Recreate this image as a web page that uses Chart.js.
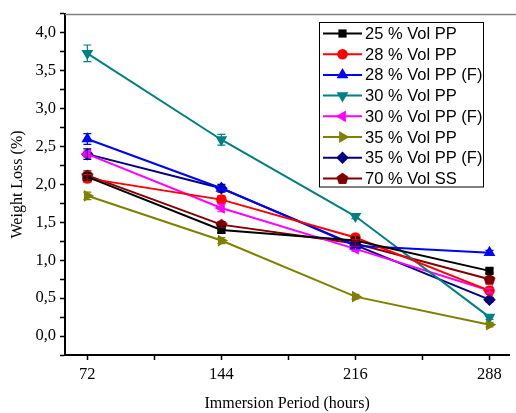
<!DOCTYPE html>
<html>
<head>
<meta charset="utf-8">
<script src="https://cdn.jsdelivr.net/npm/chart.js@4.4.1/dist/chart.umd.min.js"></script>
<style>
  html, body { margin: 0; padding: 0; background: #fff; }
  #wrap { position: relative; width: 516px; height: 413px; }
</style>
</head>
<body>
<div id="wrap"><canvas id="c" width="516" height="413"></canvas></div>
<script>
// ---- data ----
const hours = [72, 144, 216, 288];
const seriesNames = ['25 % Vol PP', '28 % Vol PP', '28 % Vol PP (F)', '30 % Vol PP', '30 % Vol PP (F)', '35 % Vol PP', '35 % Vol PP (F)', '70 % Vol SS'];
const vol25PP   = [2.10, 1.40, 1.26, 0.86];
const vol28PP   = [2.08, 1.80, 1.30, 0.60];
const vol28PPF  = [2.60, 1.95, 1.19, 1.10];
const vol30PP   = [3.73, 2.59, 1.58, 0.25];
const vol30PPF  = [2.40, 1.69, 1.15, 0.60];
const vol35PP   = [1.85, 1.26, 0.52, 0.15];
const vol35PPF  = [2.40, 1.95, 1.20, 0.48];
const vol70SS   = [2.12, 1.47, 1.22, 0.75];
const err25PP   = [0.05, 0.04, 0.03, 0.03];
const err28PP   = [0.05, 0.05, 0.03, 0.03];
const err28PPF  = [0.07, 0.03, 0.03, 0.03];
const err30PP   = [0.11, 0.07, 0.03, 0.03];
const err30PPF  = [0.04, 0.05, 0.03, 0.03];
const err35PP   = [0.05, 0.04, 0.03, 0.03];
const err35PPF  = [0.07, 0.05, 0.03, 0.03];
const err70SS   = [0.06, 0.04, 0.03, 0.03];
const xMajorTicks = [72, 144, 216, 288];
const xMinorTicks = [108, 180, 252];

const values = [vol25PP, vol28PP, vol28PPF, vol30PP, vol30PPF, vol35PP, vol35PPF, vol70SS];
const errors = [err25PP, err28PP, err28PPF, err30PP, err30PPF, err35PP, err35PPF, err70SS];
const colors = ['#000000', '#ff0000', '#0000ff', '#008080', '#ff00ff', '#808000', '#000080', '#800000'];

// pentagon marker
function pentagon(color, r) {
  const s = Math.ceil(r * 2 + 2);
  const cv = document.createElement('canvas');
  cv.width = s; cv.height = s;
  const g = cv.getContext('2d');
  g.fillStyle = color;
  g.beginPath();
  for (let i = 0; i < 5; i++) {
    const a = -Math.PI / 2 + i * 2 * Math.PI / 5;
    const px = s / 2 + r * Math.cos(a), py = s / 2 + r * Math.sin(a) + 0.5;
    if (i === 0) g.moveTo(px, py); else g.lineTo(px, py);
  }
  g.closePath(); g.fill();
  return cv;
}

const styles = [
  { ps: 'rect', rot: 0, r: 5.8 },
  { ps: 'circle', rot: 0, r: 5.3 },
  { ps: 'triangle', rot: 0, r: 6.8 },
  { ps: 'triangle', rot: 180, r: 6.8 },
  { ps: 'triangle', rot: 270, r: 6.8 },
  { ps: 'triangle', rot: 90, r: 6.8 },
  { ps: 'rectRot', rot: 0, r: 6.3 },
  { ps: pentagon('#800000', 6.3), rot: 0, r: 6.3 }
];

const datasets = seriesNames.map((name, i) => ({
  label: name,
  data: hours.map((h, j) => ({ x: h, y: values[i][j] })),
  errs: errors[i],
  borderColor: colors[i],
  backgroundColor: colors[i],
  borderWidth: 2,
  pointStyle: styles[i].ps,
  pointRotation: styles[i].rot,
  pointRadius: styles[i].r,
  pointBorderWidth: 0,
  pointBackgroundColor: colors[i],
  pointBorderColor: colors[i],
  tension: 0,
  fill: false
}));

const errorBars = {
  id: 'errorBars',
  afterDatasetsDraw(chart) {
    const ctx = chart.ctx, ys = chart.scales.y;
    chart.data.datasets.forEach((ds, i) => {
      const meta = chart.getDatasetMeta(i);
      ctx.save();
      ctx.strokeStyle = ds.borderColor;
      ctx.lineWidth = 1.2;
      meta.data.forEach((pt, j) => {
        const v = ds.data[j].y, e = ds.errs[j];
        const yt = ys.getPixelForValue(v + e), yb = ys.getPixelForValue(v - e);
        ctx.beginPath();
        ctx.moveTo(pt.x, yt); ctx.lineTo(pt.x, yb);
        ctx.moveTo(pt.x - 4, yt); ctx.lineTo(pt.x + 4, yt);
        ctx.moveTo(pt.x - 4, yb); ctx.lineTo(pt.x + 4, yb);
        ctx.stroke();
      });
      ctx.restore();
    });
  }
};

const frameAndLegend = {
  id: 'frameAndLegend',
  afterDraw(chart) {
    const ctx = chart.ctx, a = chart.chartArea;
    ctx.save();
    ctx.strokeStyle = '#808080';
    ctx.lineWidth = 1.5;
    ctx.beginPath();
    ctx.moveTo(a.left, a.top + 0.5); ctx.lineTo(chart.width, a.top + 0.5);
    ctx.stroke();
    // legend
    const bx = 319.5, by = 22.5, bw = 164, bh = 164.5;
    ctx.fillStyle = '#fff';
    ctx.fillRect(bx, by, bw, bh);
    ctx.strokeStyle = '#000';
    ctx.lineWidth = 1;
    ctx.strokeRect(bx, by, bw, bh);
    ctx.font = '16.5px "Liberation Sans", Arial, sans-serif';
    ctx.textBaseline = 'middle';
    chart.data.datasets.forEach((ds, i) => {
      const y = 33.5 + i * 20.7;
      ctx.strokeStyle = ds.borderColor;
      ctx.lineWidth = 2;
      ctx.beginPath(); ctx.moveTo(323, y); ctx.lineTo(362, y); ctx.stroke();
      ctx.fillStyle = ds.borderColor;
      Chart.helpers.drawPoint(ctx, { pointStyle: ds.pointStyle, rotation: ds.pointRotation, radius: ds.pointRadius, borderWidth: 0 }, 342.5, y);
      ctx.fillStyle = '#000';
      ctx.fillText(ds.label, 365, y + 1);
    });
    ctx.restore();
  }
};

const serif = '"Liberation Serif", "Times New Roman", serif';

new Chart(document.getElementById('c'), {
  type: 'line',
  data: { datasets },
  plugins: [errorBars, frameAndLegend],
  options: {
    responsive: false,
    animation: false,
    events: [],
    layout: { padding: { top: 12, right: 0, left: 0, bottom: 0 } },
    plugins: { legend: { display: false }, tooltip: { enabled: false } },
    scales: {
      x: {
        type: 'linear',
        min: 60, max: 298.6,
        afterBuildTicks(s) {
          s.ticks = xMajorTicks.concat(xMinorTicks).sort((p, q) => p - q).map(v => ({ value: v }));
        },
        afterFit(s) { s.height = 58; },
        ticks: {
          color: '#000',
          font: { family: serif, size: 16.5 },
          padding: 5,
          maxRotation: 0,
          autoSkip: false,
          callback: v => xMajorTicks.includes(v) ? String(v) : ''
        },
        grid: { drawOnChartArea: false, tickLength: 5, color: '#000', tickWidth: 1.5 },
        border: { color: '#000', width: 2 },
        title: { display: true, text: 'Immersion Period (hours)', color: '#000', font: { family: serif, size: 16 }, padding: { top: 0, bottom: 0 } }
      },
      y: {
        min: -0.25, max: 4.25,
        afterBuildTicks(s) {
          const t = [];
          for (let k = -1; k <= 17; k++) t.push({ value: k * 0.25 });
          s.ticks = t;
        },
        afterFit(s) { s.width = 65; },
        ticks: {
          color: '#000',
          font: { family: serif, size: 16.5 },
          padding: 4,
          autoSkip: false,
          callback: v => {
            const h = v * 2;
            if (v >= -1e-9 && v <= 4.0001 && Math.abs(h - Math.round(h)) < 1e-6) return v.toFixed(1).replace('.', ',');
            return '';
          }
        },
        grid: { drawOnChartArea: false, tickLength: 5, color: '#000', tickWidth: 1.5 },
        border: { color: '#000', width: 2 },
        title: { display: true, text: 'Weight Loss (%)', color: '#000', font: { family: serif, size: 16 }, padding: { top: 8, bottom: 0 } }
      }
    }
  }
});
</script>
</body>
</html>
